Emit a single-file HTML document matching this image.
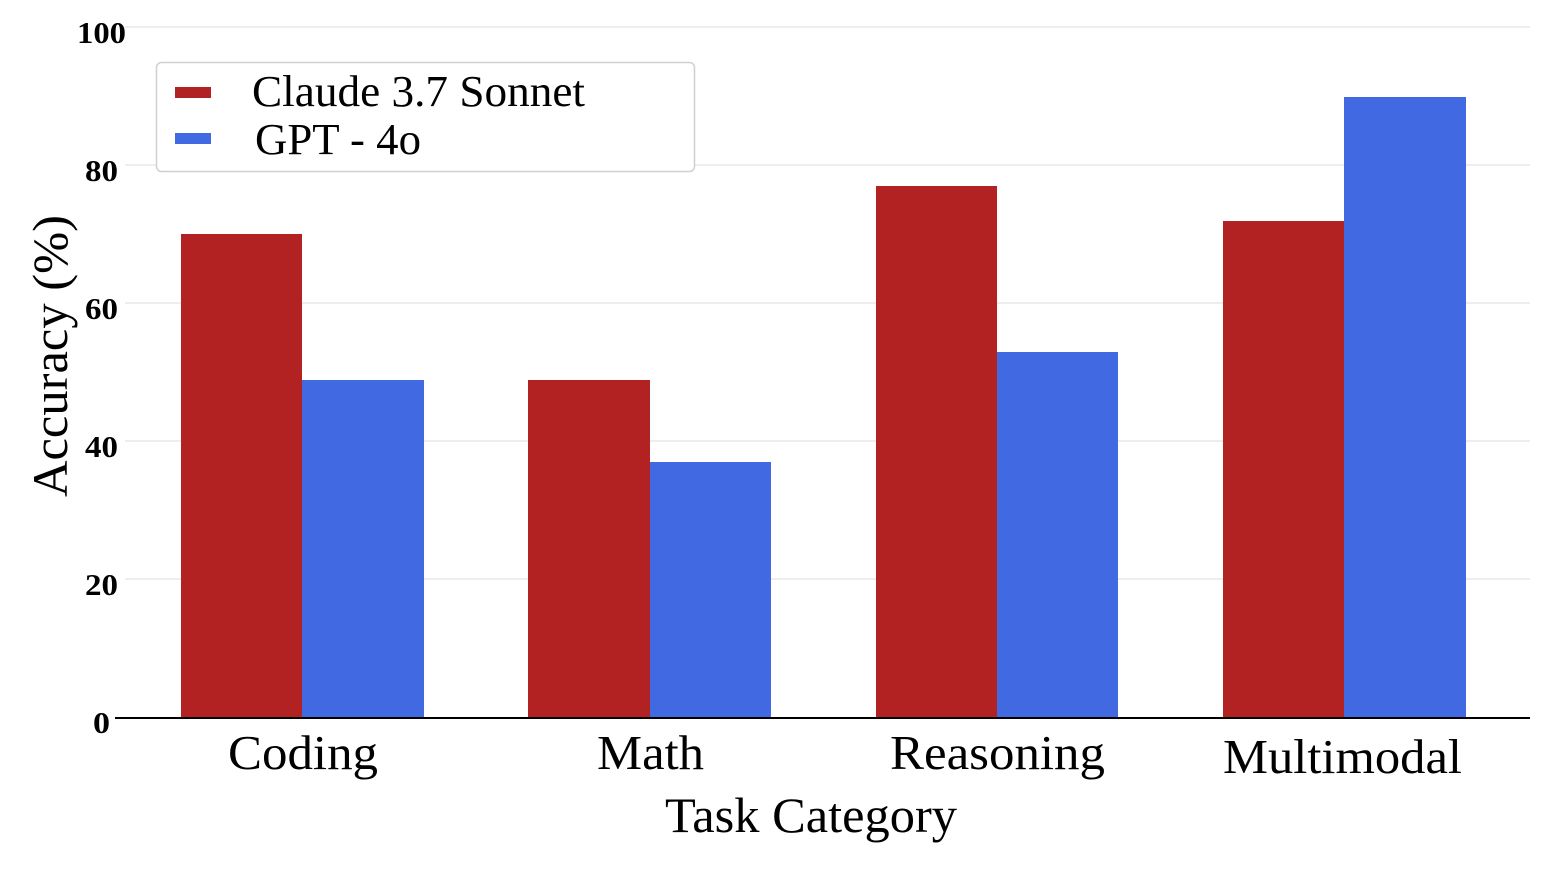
<!DOCTYPE html>
<html><head><meta charset="utf-8"><style>
html,body{margin:0;padding:0;background:#fff;}
</style></head><body>
<svg width="1549" height="874" viewBox="0 0 1549 874" xmlns="http://www.w3.org/2000/svg" font-family="Liberation Serif, serif">
<rect width="1549" height="874" fill="#fff"/>
<g stroke="#dcdcdc" stroke-width="1">
<line x1="125" y1="27" x2="1530" y2="27"/>
<line x1="125" y1="165" x2="1530" y2="165"/>
<line x1="125" y1="303" x2="1530" y2="303"/>
<line x1="125" y1="441" x2="1530" y2="441"/>
<line x1="125" y1="579" x2="1530" y2="579"/>
</g>
<g fill="#b22222">
<rect x="181" y="234" width="121" height="484"/>
<rect x="528" y="380" width="122" height="338"/>
<rect x="876" y="186" width="121" height="532"/>
<rect x="1223" y="221" width="121" height="497"/>
</g>
<g fill="#4169e1">
<rect x="302" y="380" width="122" height="338"/>
<rect x="650" y="462" width="121" height="256"/>
<rect x="997" y="352" width="121" height="366"/>
<rect x="1344" y="97" width="122" height="621"/>
</g>
<line x1="115" y1="718" x2="1530" y2="718" stroke="#000" stroke-width="2"/>
<g font-size="31" font-weight="bold" fill="#000" lengthAdjust="spacingAndGlyphs">
<text x="77" y="43" textLength="49" lengthAdjust="spacingAndGlyphs">100</text>
<text x="85" y="181" textLength="33" lengthAdjust="spacingAndGlyphs">80</text>
<text x="85" y="319" textLength="33" lengthAdjust="spacingAndGlyphs">60</text>
<text x="85" y="457" textLength="33" lengthAdjust="spacingAndGlyphs">40</text>
<text x="85" y="595" textLength="33" lengthAdjust="spacingAndGlyphs">20</text>
<text x="93" y="733" textLength="17" lengthAdjust="spacingAndGlyphs">0</text>
</g>
<g font-size="49" fill="#000">
<text x="228" y="769" textLength="150" lengthAdjust="spacingAndGlyphs">Coding</text>
<text x="597" y="769" textLength="107" lengthAdjust="spacingAndGlyphs">Math</text>
<text x="890" y="769" textLength="215" lengthAdjust="spacingAndGlyphs">Reasoning</text>
<text x="1223" y="773" textLength="239" lengthAdjust="spacingAndGlyphs">Multimodal</text>
</g>
<text x="665" y="832" font-size="50" textLength="292" lengthAdjust="spacingAndGlyphs">Task Category</text>
<text transform="translate(67,497) rotate(-90)" font-size="50" textLength="282" lengthAdjust="spacingAndGlyphs">Accuracy (%)</text>
<rect x="156.5" y="62.5" width="538" height="109" rx="5" fill="#fff" stroke="#d0d0d0" stroke-width="1.5"/>
<rect x="175" y="87" width="36" height="11" fill="#b22222"/>
<rect x="175" y="133" width="36" height="11" fill="#4169e1"/>
<text x="252" y="106" font-size="44" textLength="333" lengthAdjust="spacingAndGlyphs">Claude 3.7 Sonnet</text>
<text x="255" y="154" font-size="44" textLength="166" lengthAdjust="spacingAndGlyphs">GPT - 4o</text>
</svg>
</body></html>
